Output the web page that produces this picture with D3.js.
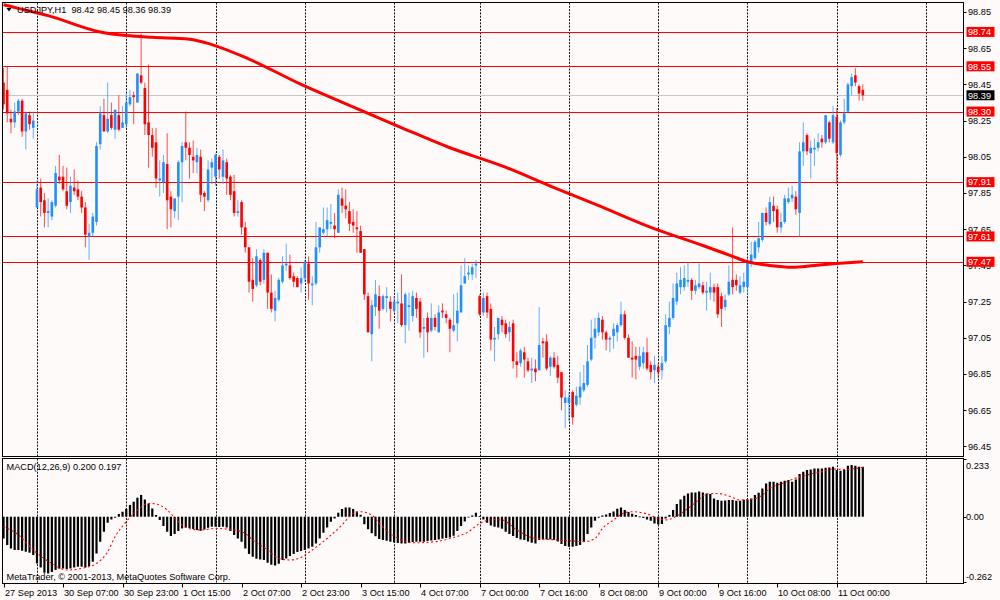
<!DOCTYPE html>
<html><head><meta charset="utf-8">
<script src="https://cdn.jsdelivr.net/npm/d3@7"></script>
<style>
body{margin:0;background:#fffafa}
svg{display:block}
text{font-family:"Liberation Sans",Arial,sans-serif;font-size:9.2px;fill:#000}
</style></head>
<body><svg id="c" width="1000" height="600"></svg>
<script>
// ---------- DATA ----------
const symbolTitle = "USDJPY,H1  98.42 98.45 98.36 98.39";
const macdTitle = "MACD(12,26,9) 0.200 0.197";
const copyright = "MetaTrader, \u00A9 2001-2013, MetaQuotes Software Corp.";

// hourly bars [open, high, low, close], 27 Sep 15:00 .. 11 Oct 07:00
const ohlc = [
[98.46,98.54,98.31,98.34],[98.42,98.55,98.24,98.29],[98.26,98.31,98.18,98.24],[98.24,98.35,98.21,98.30],
[98.30,98.37,98.28,98.36],[98.36,98.37,98.16,98.19],[98.19,98.30,98.09,98.29],[98.28,98.30,98.20,98.23],
[98.21,98.30,98.15,98.25],[97.77,97.92,97.77,97.87],[97.88,97.93,97.72,97.80],[97.81,97.85,97.66,97.74],
[97.74,97.82,97.66,97.75],[97.72,97.81,97.70,97.80],[97.78,98.00,97.77,97.96],[97.94,98.06,97.90,97.92],
[97.94,98.00,97.86,97.87],[97.86,97.99,97.76,97.78],[97.80,97.94,97.74,97.89],[97.88,97.98,97.84,97.86],
[97.87,97.92,97.81,97.83],[97.83,97.86,97.74,97.77],[97.77,97.80,97.55,97.62],[97.61,97.68,97.48,97.63],
[97.63,97.74,97.61,97.72],[97.69,98.13,97.67,98.11],[98.12,98.33,98.09,98.29],[98.28,98.37,98.19,98.19],
[98.19,98.46,98.18,98.26],[98.28,98.35,98.20,98.21],[98.20,98.31,98.15,98.31],[98.28,98.39,98.19,98.20],
[98.21,98.33,98.21,98.24],[98.23,98.40,98.21,98.35],[98.34,98.42,98.33,98.38],[98.39,98.41,98.23,98.38],
[98.35,98.51,98.35,98.51],[98.50,98.73,98.45,98.46],[98.43,98.46,98.17,98.23],[98.24,98.56,97.99,98.17],
[98.17,98.21,98.05,98.10],[98.13,98.21,97.88,97.93],[97.92,98.03,97.83,97.93],[97.91,98.06,97.85,98.02],
[98.01,98.18,97.65,97.81],[97.83,97.86,97.66,97.76],[97.75,97.82,97.71,97.82],[97.83,98.03,97.70,98.02],
[98.02,98.13,97.80,98.11],[98.13,98.30,98.03,98.10],[98.10,98.13,97.93,98.06],[98.05,98.14,97.96,98.03],
[98.02,98.10,97.96,98.06],[98.05,98.09,97.80,97.84],[97.85,97.86,97.75,97.83],[97.81,98.03,97.80,97.98],
[97.99,98.04,97.90,98.02],[97.94,98.07,97.89,98.06],[98.05,98.06,97.93,97.98],[97.94,98.09,97.90,98.03],
[98.02,98.04,97.84,97.93],[97.94,97.95,97.81,97.84],[97.86,97.95,97.72,97.74],[97.74,97.81,97.72,97.75],
[97.80,97.81,97.62,97.66],[97.66,97.69,97.52,97.55],[97.55,97.55,97.30,97.36],[97.37,97.49,97.25,97.32],
[97.34,97.54,97.33,97.50],[97.48,97.49,97.34,97.36],[97.37,97.54,97.35,97.52],[97.52,97.52,97.21,97.30],
[97.30,97.40,97.19,97.21],[97.20,97.31,97.14,97.27],[97.26,97.38,97.25,97.37],[97.36,97.50,97.35,97.45],
[97.45,97.57,97.42,97.46],[97.45,97.51,97.37,97.38],[97.39,97.41,97.33,97.36],[97.38,97.39,97.33,97.33],
[97.35,97.44,97.30,97.38],[97.38,97.48,97.36,97.47],[97.46,97.50,97.26,97.35],[97.34,97.39,97.23,97.35],
[97.35,97.69,97.34,97.55],[97.55,97.66,97.52,97.66],[97.63,97.77,97.62,97.65],[97.65,97.77,97.61,97.70],
[97.68,97.79,97.65,97.69],[97.67,97.74,97.60,97.65],[97.63,97.87,97.63,97.84],[97.82,97.88,97.74,97.78],
[97.78,97.87,97.71,97.76],[97.75,97.80,97.64,97.68],[97.69,97.76,97.63,97.67],[97.66,97.75,97.52,97.65],
[97.64,97.67,97.52,97.52],[97.54,97.54,97.26,97.29],[97.28,97.30,97.08,97.08],[97.07,97.26,96.92,97.23],
[97.22,97.37,97.17,97.29],[97.28,97.34,97.10,97.20],[97.21,97.29,97.20,97.28],[97.27,97.33,97.19,97.28],
[97.25,97.28,97.14,97.21],[97.20,97.28,97.19,97.25],[97.24,97.30,97.13,97.25],[97.24,97.40,97.11,97.12],
[97.12,97.30,97.02,97.29],[97.22,97.30,97.09,97.23],[97.17,97.31,97.14,97.28],[97.27,97.30,97.16,97.21],
[97.25,97.27,97.05,97.08],[97.10,97.16,96.94,97.11],[97.16,97.19,96.97,97.08],[97.09,97.24,97.08,97.16],
[97.16,97.18,97.09,97.11],[97.08,97.23,97.08,97.19],[97.20,97.24,97.16,97.19],[97.18,97.20,97.13,97.16],
[97.15,97.16,96.97,97.10],[97.09,97.29,97.08,97.12],[97.13,97.30,97.03,97.20],[97.19,97.45,97.19,97.34],
[97.35,97.49,97.35,97.39],[97.40,97.45,97.37,97.41],[97.40,97.46,97.37,97.44],[97.45,97.48,97.38,97.46],
[97.28,97.29,97.17,97.18],[97.19,97.30,97.17,97.27],[97.28,97.30,97.16,97.19],[97.21,97.24,96.98,97.04],
[97.04,97.11,96.92,97.05],[97.07,97.16,97.04,97.16],[97.15,97.17,97.08,97.12],[97.13,97.15,97.05,97.07],
[97.08,97.14,97.03,97.11],[97.13,97.15,96.88,96.92],[96.92,96.97,96.83,96.90],[96.91,96.99,96.89,96.98],
[96.97,97.00,96.83,96.93],[96.92,96.94,96.86,96.87],[96.87,96.94,96.80,96.88],[96.88,96.93,96.81,96.86],
[96.87,97.22,96.87,97.01],[97.03,97.05,96.94,97.02],[97.03,97.07,96.87,96.88],[96.89,96.95,96.84,96.94],
[96.94,96.97,96.88,96.89],[96.90,96.95,96.80,96.83],[96.86,96.86,96.65,96.72],[96.69,96.76,96.55,96.72],
[96.69,96.75,96.59,96.72],[96.75,96.76,96.57,96.61],[96.68,96.78,96.67,96.73],[96.72,96.86,96.68,96.78],
[96.76,96.90,96.75,96.80],[96.79,97.01,96.78,96.92],[96.93,97.15,96.92,97.05],[97.05,97.16,96.99,97.10],
[97.08,97.19,97.06,97.16],[97.15,97.17,97.04,97.08],[97.08,97.09,96.98,97.04],[97.04,97.06,96.97,97.05],
[97.06,97.13,96.99,97.10],[97.08,97.13,97.03,97.12],[97.12,97.25,97.11,97.18],[97.18,97.20,97.04,97.05],
[97.05,97.07,96.94,96.94],[96.94,97.03,96.83,96.93],[96.95,97.00,96.82,96.93],[96.89,97.00,96.87,96.95],
[96.91,97.00,96.88,96.97],[96.97,97.05,96.87,96.88],[96.90,96.92,96.82,96.86],[96.87,96.95,96.80,96.90],
[96.89,96.91,96.83,96.86],[96.87,96.95,96.82,96.91],[96.92,97.18,96.91,97.12],[97.11,97.25,97.07,97.16],
[97.16,97.35,97.15,97.27],[97.25,97.41,97.23,97.35],[97.33,97.44,97.29,97.37],[97.33,97.45,97.31,97.38],
[97.36,97.47,97.33,97.37],[97.37,97.38,97.26,97.31],[97.31,97.37,97.29,97.34],[97.33,97.46,97.32,97.35],
[97.34,97.36,97.29,97.30],[97.30,97.36,97.20,97.31],[97.30,97.41,97.26,97.33],[97.33,97.35,97.25,97.30],
[97.33,97.35,97.16,97.18],[97.28,97.30,97.11,97.21],[97.22,97.29,97.20,97.26],[97.29,97.45,97.28,97.36],
[97.37,97.66,97.29,97.33],[97.37,97.40,97.31,97.34],[97.30,97.39,97.29,97.34],[97.33,97.41,97.30,97.36],
[97.33,97.49,97.29,97.47],[97.47,97.58,97.44,97.51],[97.49,97.59,97.48,97.58],[97.55,97.69,97.52,97.60],
[97.59,97.74,97.58,97.74],[97.74,97.77,97.67,97.69],[97.68,97.83,97.67,97.80],[97.78,97.83,97.69,97.75],
[97.76,97.78,97.63,97.66],[97.66,97.74,97.63,97.69],[97.69,97.84,97.68,97.82],[97.80,97.88,97.79,97.82],
[97.82,97.89,97.80,97.84],[97.83,97.86,97.73,97.76],[97.74,98.13,97.61,98.08],[98.08,98.24,98.00,98.13],
[98.17,98.18,98.06,98.08],[98.07,98.14,97.93,98.10],[98.09,98.15,98.00,98.10],[98.10,98.18,98.08,98.13],
[98.15,98.17,98.10,98.13],[98.13,98.28,98.12,98.28],[98.24,98.25,98.13,98.15],[98.13,98.33,98.12,98.28],
[98.27,98.32,97.90,98.07],[98.06,98.25,98.05,98.24],[98.24,98.37,98.23,98.29],[98.30,98.46,98.29,98.45],
[98.44,98.51,98.39,98.49],[98.50,98.54,98.44,98.46],[98.44,98.45,98.36,98.40],[98.42,98.45,98.36,98.39]
];

// moving average (thick red line), sampled at bar indices
const maIdx = [0,4,12,26,33,40,50,56,66,80,90,106,120,134,148,160,174,188,196,200,206,212,218,224,231];
const maVal = [98.89,98.87,98.83,98.74,98.72,98.71,98.70,98.67,98.59,98.45,98.36,98.22,98.10,98.00,97.88,97.78,97.66,97.56,97.50,97.47,97.45,97.44,97.45,97.46,97.47];

// MACD histogram, one value per bar
const macdHist = [
-0.087,-0.113,-0.127,-0.133,-0.133,-0.136,-0.140,-0.144,-0.153,-0.187,
-0.203,-0.224,-0.227,-0.221,-0.213,-0.208,-0.207,-0.209,-0.207,-0.203,
-0.200,-0.200,-0.203,-0.197,-0.180,-0.147,-0.100,-0.060,-0.024,-0.011,
-0.004,0.011,0.020,0.032,0.047,0.060,0.076,0.087,0.069,0.053,
0.033,0.007,-0.013,-0.037,-0.060,-0.077,-0.069,-0.057,-0.047,-0.043,
-0.045,-0.049,-0.053,-0.056,-0.051,-0.044,-0.040,-0.040,-0.041,-0.040,
-0.043,-0.057,-0.073,-0.087,-0.100,-0.127,-0.149,-0.160,-0.168,-0.171,
-0.173,-0.184,-0.192,-0.195,-0.188,-0.173,-0.167,-0.157,-0.149,-0.141,
-0.137,-0.133,-0.127,-0.120,-0.107,-0.087,-0.064,-0.043,-0.020,-0.007,
0.016,0.031,0.037,0.037,0.031,0.021,0.008,-0.030,-0.050,-0.066,
-0.078,-0.089,-0.093,-0.096,-0.100,-0.103,-0.105,-0.107,-0.107,-0.104,
-0.101,-0.100,-0.100,-0.100,-0.097,-0.095,-0.093,-0.091,-0.088,-0.085,
-0.083,-0.076,-0.057,-0.037,-0.019,-0.003,0.005,0.016,0.003,-0.011,
-0.024,-0.035,-0.040,-0.043,-0.048,-0.060,-0.069,-0.077,-0.085,-0.091,
-0.093,-0.099,-0.104,-0.107,-0.093,-0.091,-0.091,-0.091,-0.093,-0.099,
-0.109,-0.117,-0.120,-0.120,-0.117,-0.113,-0.101,-0.069,-0.043,-0.016,
-0.004,0.005,0.009,0.015,0.021,0.032,0.037,0.027,0.019,0.012,
0.007,0.001,-0.005,-0.011,-0.016,-0.027,-0.031,-0.029,-0.007,0.007,
0.027,0.051,0.069,0.084,0.093,0.097,0.097,0.101,0.097,0.093,
0.091,0.073,0.067,0.064,0.065,0.067,0.067,0.064,0.064,0.068,
0.069,0.073,0.087,0.096,0.113,0.133,0.140,0.140,0.136,0.140,
0.144,0.147,0.140,0.149,0.171,0.180,0.187,0.189,0.193,0.193,
0.193,0.196,0.197,0.200,0.187,0.184,0.187,0.204,0.207,0.204,
0.200,0.200
];

// MACD signal line (red dotted), sampled at bar indices
const sigIdx = [0,4,8,13,17,22,25,28,30,33,36,39,41,44,47,49,53,57,62,65,67,71,74,77,80,83,87,91,94,96,99,101,104,107,111,116,120,125,128,132,134,138,143,147,152,156,159,161,164,167,169,173,176,178,181,184,187,189,192,195,198,201,204,206,210,212,216,220,223,226,229,231];
const sigVal = [-0.040,-0.073,-0.133,-0.187,-0.213,-0.203,-0.187,-0.140,-0.080,-0.020,0.027,0.053,0.051,0.027,-0.020,-0.043,-0.053,-0.047,-0.053,-0.067,-0.093,-0.133,-0.167,-0.173,-0.163,-0.133,-0.087,-0.033,0.013,0.020,0.007,-0.027,-0.067,-0.093,-0.104,-0.100,-0.087,-0.060,-0.027,-0.011,-0.013,-0.053,-0.087,-0.091,-0.096,-0.100,-0.087,-0.047,-0.013,0.016,0.020,0.011,-0.007,-0.013,0.003,0.033,0.069,0.091,0.093,0.083,0.067,0.069,0.087,0.113,0.136,0.149,0.167,0.180,0.191,0.189,0.193,0.197];

// horizontal levels (red), bid line
const levels = [98.74,98.55,98.30,97.91,97.61,97.47];
const bid = 98.39;

// axis ticks
const priceTicks = [98.85,98.65,98.45,98.25,98.05,97.85,97.65,97.45,97.25,97.05,96.85,96.65,96.45];
const macdTicks = [0.233,0.00,-0.262];
const macdTickLabels = ["0.233","0.00","-0.262"];
const timeTickIdx = [0,16,32,48,64,80,96,112,128,144,160,176,192,208,224];
const timeTickLabels = ["27 Sep 2013","30 Sep 07:00","30 Sep 23:00","1 Oct 15:00","2 Oct 07:00","2 Oct 23:00",
  "3 Oct 15:00","4 Oct 07:00","7 Oct 00:00","7 Oct 16:00","8 Oct 08:00","9 Oct 00:00","9 Oct 16:00","10 Oct 08:00","11 Oct 00:00"];
const dayStartIdx = [9,33,57,81,105,128,152,176,200,224,248];

// ---------- DRAW ----------
const svg = d3.select("#c");
const BG = "#fffafa", BULL = "#1e90ff", BEAR = "#ff0000";
const X0 = 2.5, X1 = 963.5, MT = 2.5, MB = 456.5, ST = 458.5, SB = 583.5;

const x = d3.scaleLinear().domain([0, 231]).range([3.5, 862.8]);
const y = d3.scaleLinear().domain([96.45, 98.85]).range([446.4, 12]);
const ym = d3.scaleLinear().domain([-0.262, 0.233]).range([582.2, 458.5]);

svg.append("rect").attr("width", 1000).attr("height", 600).attr("fill", BG);

const defs = svg.append("defs");
defs.append("clipPath").attr("id", "cm").append("rect")
  .attr("x", X0).attr("y", MT).attr("width", X1 - X0).attr("height", MB - MT);
defs.append("clipPath").attr("id", "cs").append("rect")
  .attr("x", X0).attr("y", ST).attr("width", X1 - X0).attr("height", SB - ST);

const px = v => Math.round(v) + 0.5;

// vertical dotted day separators
const grid = svg.append("g").attr("stroke", "#111").attr("stroke-width", 1).attr("stroke-dasharray", "2,1.3");
dayStartIdx.forEach(i => {
  const gx = px(x(i));
  grid.append("line").attr("x1", gx).attr("x2", gx).attr("y1", MT).attr("y2", MB);
  grid.append("line").attr("x1", gx).attr("x2", gx).attr("y1", ST).attr("y2", SB);
});

const main = svg.append("g").attr("clip-path", "url(#cm)");

// bid line
main.append("line").attr("x1", X0).attr("x2", X1).attr("y1", px(y(bid))).attr("y2", px(y(bid)))
  .attr("stroke", "#c8c8c8").attr("stroke-width", 1);
// level lines
main.selectAll("line.lvl").data(levels).join("line").attr("class", "lvl")
  .attr("x1", X0).attr("x2", X1)
  .attr("y1", d => px(y(d))).attr("y2", d => px(y(d)))
  .attr("stroke", "#ff0000").attr("stroke-width", 1);

// candles
const cg = main.append("g");
ohlc.forEach((d, i) => {
  const [o, h, l, c] = d;
  const col = c >= o ? BULL : BEAR;
  const cx = x(i);
  cg.append("line").attr("x1", cx).attr("x2", cx).attr("y1", y(h)).attr("y2", y(l))
    .attr("stroke", col).attr("stroke-width", 1).attr("opacity", 0.7);
  const top = y(Math.max(o, c)), bot = y(Math.min(o, c));
  cg.append("rect").attr("x", cx - 1.3).attr("width", 2.6)
    .attr("y", top).attr("height", Math.max(1, bot - top)).attr("fill", col);
});

// moving average
const maLine = d3.line().x(d => x(d[0])).y(d => y(d[1])).curve(d3.curveMonotoneX);
main.append("path").datum(maIdx.map((v, k) => [v, maVal[k]])).attr("d", maLine)
  .attr("fill", "none").attr("stroke", "#ff0000").attr("stroke-width", 3).attr("stroke-linejoin", "round");

// MACD panel
const sub = svg.append("g").attr("clip-path", "url(#cs)");
sub.selectAll("rect.h").data(macdHist).join("rect").attr("class", "h")
  .attr("x", (d, i) => x(i) - 1.1).attr("width", 2.2)
  .attr("y", d => Math.min(ym(0), ym(d)))
  .attr("height", d => Math.max(0.8, Math.abs(ym(d) - ym(0))))
  .attr("fill", "#000");
const sigLine = d3.line().x(d => x(d[0])).y(d => ym(d[1])).curve(d3.curveMonotoneX);
sub.append("path").datum(sigIdx.map((v, k) => [v, sigVal[k]])).attr("d", sigLine)
  .attr("fill", "none").attr("stroke", "#ff0000").attr("stroke-width", 1.1).attr("stroke-dasharray", "2,2.5");

// panel frames
svg.append("rect").attr("x", X0).attr("y", MT).attr("width", X1 - X0).attr("height", MB - MT)
  .attr("fill", "none").attr("stroke", "#000");
svg.append("rect").attr("x", X0).attr("y", ST).attr("width", X1 - X0).attr("height", SB - ST)
  .attr("fill", "none").attr("stroke", "#000");

// right price axis
const ra = svg.append("g");
priceTicks.forEach(p => {
  const ty = px(y(p));
  ra.append("line").attr("x1", X1).attr("x2", X1 + 3).attr("y1", ty).attr("y2", ty).attr("stroke", "#000");
  ra.append("text").attr("x", 968).attr("y", y(p) + 3.3).text(p.toFixed(2));
});
// level tags
levels.forEach(p => {
  ra.append("rect").attr("x", 966.5).attr("y", y(p) - 5).attr("width", 28).attr("height", 10).attr("fill", "#ff0000");
  ra.append("text").attr("x", 968).attr("y", y(p) + 3.3).style("fill", "#fff").text(p.toFixed(2));
});
ra.append("rect").attr("x", 966.5).attr("y", y(bid) - 5).attr("width", 28).attr("height", 10).attr("fill", "#000");
ra.append("text").attr("x", 968).attr("y", y(bid) + 3.3).style("fill", "#fff").text(bid.toFixed(2));

// MACD axis
const labY = [468.5, 519.5, 580];
macdTicks.forEach((v, k) => {
  const ty = px(ym(v));
  ra.append("line").attr("x1", X1).attr("x2", X1 + 3).attr("y1", ty).attr("y2", ty).attr("stroke", "#000");
  ra.append("text").attr("x", 966).attr("y", labY[k]).text(macdTickLabels[k]);
});

// time axis
const ta = svg.append("g");
timeTickIdx.forEach((i, k) => {
  const tx = px(x(i));
  ta.append("line").attr("x1", tx).attr("x2", tx).attr("y1", SB).attr("y2", SB + 4).attr("stroke", "#000");
  ta.append("text").attr("x", Math.max(2, tx + 0.5)).attr("y", 596).text(timeTickLabels[k]);
});

// titles
svg.append("path").attr("d", "M6.5,8 L11.5,8 L9,11.5 Z").attr("fill", "#000");
svg.append("text").attr("x", 17).attr("y", 13).attr("xml:space", "preserve").style("white-space", "pre").text(symbolTitle);
svg.append("text").attr("x", 6.5).attr("y", 469.5).text(macdTitle);
svg.append("text").attr("x", 6.5).attr("y", 580).text(copyright);
</script></body></html>
